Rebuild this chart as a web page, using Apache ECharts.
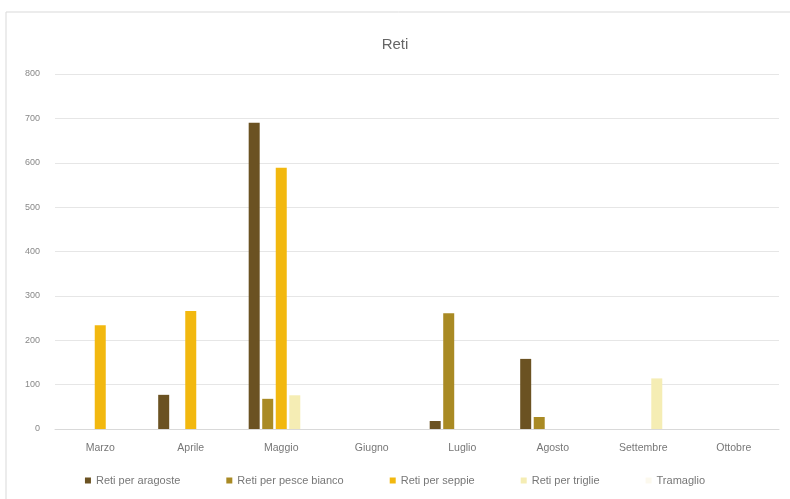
<!DOCTYPE html>
<html>
<head>
<meta charset="utf-8">
<script src="https://cdn.jsdelivr.net/npm/echarts@6/dist/echarts.min.js"></script>
<style>
html,body{margin:0;padding:0;background:#fff;}
#chart{width:790px;height:499px;}
</style>
</head>
<body>
<div id="chart"></div>
<script>
const categories = ['Marzo','Aprile','Maggio','Giugno','Luglio','Agosto','Settembre','Ottobre'];
const seriesNames = ['Reti per aragoste','Reti per pesce bianco','Reti per seppie','Reti per triglie','Tramaglio'];
const aragoste = [0, 77, 690, 0, 18, 158, 0, 0];
const pesceBianco = [0, 0, 68, 0, 261, 27, 0, 0];
const seppie = [234, 266, 589, 0, 0, 0, 0, 0];
const triglie = [0, 0, 76, 0, 0, 0, 114, 0];
const tramaglio = [0, 0, 0, 0, 0, 0, 0, 0];
const yTicks = [0, 100, 200, 300, 400, 500, 600, 700, 800];

const colors = ['#6b5222', '#a98a24', '#f2b80f', '#f5edb4', '#fcf9ee'];
const dataSets = [aragoste, pesceBianco, seppie, triglie, tramaglio];

const chart = echarts.init(document.getElementById('chart'));
chart.setOption({
  animation: false,
  backgroundColor: '#ffffff',
  graphic: [{
    type: 'rect',
    shape: {x: 6, y: 12, width: 800, height: 500},
    style: {fill: 'none', stroke: '#d9d9d9', lineWidth: 1},
    silent: true
  }],
  title: {
    text: 'Reti',
    left: 'center',
    top: 32,
    textStyle: {color: '#666', fontSize: 15, fontWeight: 'normal', fontFamily: 'Liberation Sans, Arial, sans-serif'}
  },
  legend: {
    data: seriesNames,
    bottom: 8,
    left: 'center',
    icon: 'rect',
    itemWidth: 6,
    itemHeight: 6,
    itemGap: 46,
    textStyle: {color: '#777', fontSize: 11, fontFamily: 'Liberation Sans, Arial, sans-serif'}
  },
  grid: {left: 55, right: 11, top: 74, bottom: 70, containLabel: false},
  xAxis: {
    type: 'category',
    data: categories,
    axisLine: {lineStyle: {color: '#d9d9d9'}},
    axisTick: {show: false},
    axisLabel: {color: '#777', fontSize: 10.5, margin: 14, fontFamily: 'Liberation Sans, Arial, sans-serif'}
  },
  yAxis: {
    type: 'value',
    min: yTicks[0],
    max: yTicks[yTicks.length - 1],
    interval: 100,
    axisLine: {show: false},
    axisTick: {show: false},
    splitLine: {lineStyle: {color: '#e6e6e6'}},
    axisLabel: {color: '#888', fontSize: 9, margin: 15, fontFamily: 'Liberation Sans, Arial, sans-serif'}
  },
  series: seriesNames.map((name, i) => ({
    name: name,
    type: 'bar',
    data: dataSets[i],
    barWidth: 11,
    barGap: '23%',
    itemStyle: {color: colors[i]}
  }))
});
</script>
</body>
</html>
